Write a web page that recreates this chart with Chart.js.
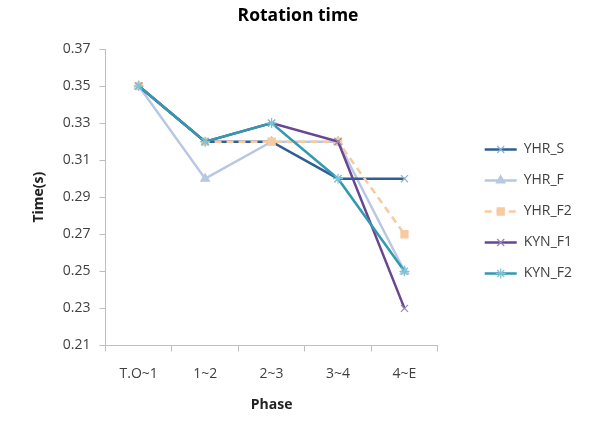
<!DOCTYPE html>
<html>
<head>
<meta charset="utf-8">
<script src="https://cdn.jsdelivr.net/npm/chart.js@4.4.0/dist/chart.umd.min.js"></script>
<style>
  html, body { margin: 0; padding: 0; background: #fff; }
  #wrap { width: 600px; height: 425px; }
</style>
</head>
<body>
<div id="wrap"><canvas id="rotChart" width="600" height="425"></canvas></div>
<script>
// chart data
const phases = ["T.O~1", "1~2", "2~3", "3~4", "4~E"];
const yhrS  = [0.35, 0.32, 0.32, 0.30, 0.30];
const yhrF  = [0.35, 0.30, 0.32, 0.32, 0.25];
const yhrF2 = [0.35, 0.32, 0.32, 0.32, 0.27];
const kynF1 = [0.35, 0.32, 0.33, 0.32, 0.23];
const kynF2 = [0.35, 0.32, 0.33, 0.30, 0.25];
const yMin = 0.21, yMax = 0.37, yStep = 0.02;

const FONT = "'Open Sans', 'Noto Sans', sans-serif";
const TXT = "#404040";
const LEGEND_EXTRA = 30; // empty gap between plot and legend
const LEGEND_UP = 4;

function series(label, data, color, style, order, extra) {
  return Object.assign({
    label: label,
    data: data,
    borderColor: color,
    backgroundColor: color,
    pointBorderColor: color,
    pointBackgroundColor: color,
    borderWidth: 2.5,
    pointStyle: style,
    pointRadius: 5,
    pointBorderWidth: 1.2,
    tension: 0,
    fill: false,
    order: order
  }, extra || {});
}

const datasets = [
  series("YHR_S", yhrS, "#2f5e94", "crossRot", 4, { pointBorderColor: "#8fb3d6" }),
  series("YHR_F", yhrF, "#b7c9e2", "triangle", 5),
  series("YHR_F2", yhrF2, "#f8caa0", "rect", 3, { borderDash: [7, 5] }),
  series("KYN_F1", kynF1, "#6a4592", "crossRot", 2, { pointBorderColor: "#9b86bb" }),
  series("KYN_F2", kynF2, "#3399b0", "star", 1, { pointBorderColor: "#7fc4d4" })
];

// widen legend box and push its content right, then put the markers on the legend lines
const legendTweak = {
  id: "legendTweak",
  beforeInit(chart) {
    const lg = chart.legend;
    if (!lg) return;
    const fit = lg.fit;
    lg.fit = function () {
      fit.call(this);
      this.width += LEGEND_EXTRA;
    };
  },
  afterLayout(chart) {
    const lg = chart.legend;
    if (!lg) return;
    lg.left += LEGEND_EXTRA;
    lg.top -= LEGEND_UP;
    lg.bottom -= LEGEND_UP;
  },
  afterDraw(chart) {
    const lg = chart.legend;
    if (!lg || !lg.legendHitBoxes) return;
    const c = chart.ctx;
    const bw = lg.options.labels.pointStyleWidth;
    const fs = lg.options.labels.font.size;
    lg.legendHitBoxes.forEach((hb, i) => {
      const d = chart.data.datasets[i];
      c.save();
      c.setLineDash([]);
      c.strokeStyle = d.pointBorderColor;
      c.fillStyle = d.pointBackgroundColor;
      c.lineWidth = d.pointBorderWidth;
      Chart.helpers.drawPoint(c, {
        pointStyle: d.pointStyle,
        radius: d.pointRadius,
        borderWidth: d.pointBorderWidth,
        rotation: 0
      }, hb.left + bw / 2, hb.top + fs / 2);
      c.restore();
    });
  }
};

const ctx = document.getElementById("rotChart").getContext("2d");
new Chart(ctx, {
  type: "line",
  data: { labels: phases, datasets: datasets },
  plugins: [legendTweak],
  options: {
    responsive: false,
    animation: false,
    layout: { padding: { left: 14, right: 18, top: 6, bottom: 0 } },
    plugins: {
      title: {
        display: true,
        text: "Rotation time",
        color: "#000",
        font: { family: FONT, size: 17.5, weight: "bold" },
        padding: { top: 0, bottom: 22 }
      },
      legend: {
        position: "right",
        align: "center",
        labels: {
          color: TXT,
          font: { family: FONT, size: 14 },
          usePointStyle: true,
          pointStyleWidth: 32,
          boxHeight: 2,
          padding: 17,
          sort: (a, b) => a.datasetIndex - b.datasetIndex,
          generateLabels: (chart) => chart.data.datasets.map((d, i) => ({
            text: d.label,
            datasetIndex: i,
            pointStyle: "line",
            fillStyle: d.borderColor,
            strokeStyle: d.borderColor,
            lineWidth: 2.5,
            lineDash: d.borderDash || [],
            fontColor: TXT,
            hidden: false
          }))
        }
      },
      tooltip: { enabled: false }
    },
    scales: {
      x: {
        offset: true,
        grid: { display: true, drawOnChartArea: false, offset: true, tickLength: 6, color: "#bfbfbf" },
        border: { color: "#bfbfbf" },
        ticks: { color: TXT, font: { family: FONT, size: 14 }, padding: 14 },
        title: { display: true, text: "Phase", color: "#222", font: { family: FONT, size: 14, weight: "bold" }, padding: { top: 0, bottom: 12 } }
      },
      y: {
        min: yMin,
        max: yMax,
        grid: { display: true, drawOnChartArea: false, tickLength: 6, color: "#bfbfbf" },
        border: { color: "#bfbfbf" },
        ticks: {
          stepSize: yStep,
          color: TXT,
          font: { family: FONT, size: 14 },
          padding: 9,
          callback: (v) => Number(v).toFixed(2)
        },
        title: { display: true, text: "Time(s)", color: "#222", font: { family: FONT, size: 14, weight: "bold" }, padding: { top: 17, bottom: 6 } }
      }
    }
  }
});
</script>
</body>
</html>
